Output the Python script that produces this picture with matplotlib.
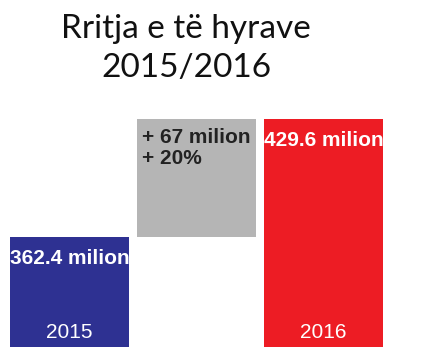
import matplotlib
matplotlib.use("Agg")
import matplotlib.pyplot as plt

# values in milion
years = ["2015", "2016"]
start_value = 362.4
end_value = 429.6
change_label = "+ 67 milion\n+ 20%"
baseline = 300

positions = [0, 1, 2]
bottoms = [baseline, start_value, baseline]
heights = [start_value - baseline, end_value - start_value, end_value - baseline]
colors = ["#2e3192", "#b5b5b5", "#ed1c24"]

fig = plt.figure(figsize=(4.29, 3.53), dpi=100)
ax = fig.add_axes([0.014, 0.017, 0.888, 0.697])
bars = ax.bar(positions, heights, bottom=bottoms, width=0.93, color=colors)
ax.set_xlim(-0.5, 2.5)
ax.set_ylim(baseline, 440)
ax.axis("off")

label_font = dict(family="Liberation Sans", fontsize=15)

# value labels on top of the year bars
for pos, value in [(0, start_value), (2, end_value)]:
    ax.annotate(f"{value} milion", (pos, value), xytext=(0, -8.5),
                textcoords="offset points", ha="center", va="top",
                color="white", fontweight="bold", **label_font)

# year labels at the bottom
for pos, year in zip([0, 2], years):
    ax.annotate(year, (pos, baseline), xytext=(0, 3.5),
                textcoords="offset points", ha="center", va="bottom",
                color="white", **label_font)

# change label in the grey bar
ax.annotate(change_label, (1 - 0.465, end_value), xytext=(3, -6.5),
            textcoords="offset points", ha="left", va="top",
            color="#222222", fontweight="bold", linespacing=1.1, **label_font)

fig.text(0.434, 0.96, "Rritja e të hyrave\n2015/2016", ha="center", va="top",
         family="Lato", fontsize=24, linespacing=1.38, color="#111111")

fig.savefig("out.png", dpi=100)
